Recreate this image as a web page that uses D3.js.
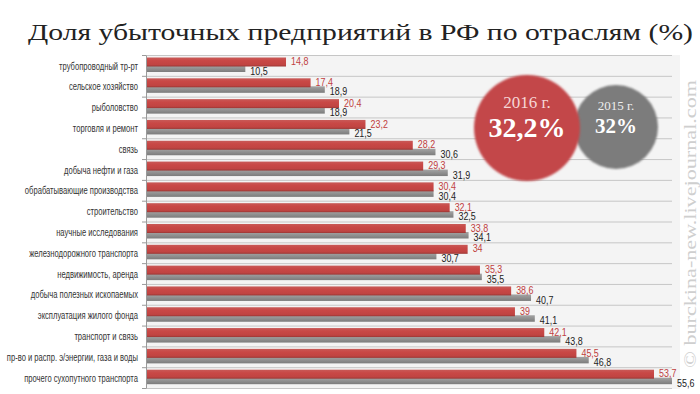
<!DOCTYPE html>
<html><head><meta charset="utf-8">
<script src="https://cdn.jsdelivr.net/npm/d3@7"></script>
<style>
body{margin:0;background:#fff;}
svg{display:block;}
</style></head>
<body>
<svg id="c" width="700" height="394"></svg>
<script>
const categories = [
  "трубопроводный тр-рт","сельское хозяйство","рыболовство","торговля и ремонт","связь",
  "добыча нефти и газа","обрабатывающие производства","строительство","научные исследования",
  "железнодорожного транспорта","недвижимость, аренда","добыча полезных ископаемых",
  "эксплуатация жилого фонда","транспорт и связь","пр-во и распр. э/энергии, газа и воды",
  "прочего сухопутного транспорта"
];
const values2016 = [14.8,17.4,20.4,23.2,28.2,29.3,30.4,32.1,33.8,34,35.3,38.6,39,42.1,45.5,53.7];
const values2015 = [10.5,18.9,18.9,21.5,30.6,31.9,30.4,32.5,34.1,30.7,35.5,40.7,41.1,43.8,46.8,55.6];
const totals = [{year:"2016 г.", value:"32,2%"},{year:"2015 г.", value:"32%"}];
const title = "Доля убыточных предприятий в РФ по отраслям (%)";
const watermark = "© burckina-new.livejournal.com";

const svg = d3.select("#c");
const fmt = v => String(v).replace(".", ",");
const sans = "'Liberation Sans','Arial',sans-serif";
const serif = "'Liberation Serif','DejaVu Serif',serif";

// horizontally condense a text selection
function condense(sel, k){
  sel.each(function(){
    const w = this.getComputedTextLength();
    d3.select(this).attr("textLength", w*k).attr("lengthAdjust","spacingAndGlyphs");
  });
}

const defs = svg.append("defs");
const gr = defs.append("linearGradient").attr("id","gRed").attr("x1",0).attr("x2",0).attr("y1",0).attr("y2",1);
gr.append("stop").attr("offset","0%").attr("stop-color","#c85a58");
gr.append("stop").attr("offset","35%").attr("stop-color","#c94846");
gr.append("stop").attr("offset","80%").attr("stop-color","#c04442");
gr.append("stop").attr("offset","100%").attr("stop-color","#9a3634");
const gg = defs.append("linearGradient").attr("id","gGray").attr("x1",0).attr("x2",0).attr("y1",0).attr("y2",1);
gg.append("stop").attr("offset","0%").attr("stop-color","#a4a4a4");
gg.append("stop").attr("offset","100%").attr("stop-color","#7c7c7c");
const blur = defs.append("filter").attr("id","soft").attr("x","-10%").attr("y","-10%").attr("width","120%").attr("height","120%");
blur.append("feGaussianBlur").attr("stdDeviation",0.8);

const x = d3.scaleLinear().domain([0, 60]).range([146, 146 + 60*9.46]);
const y = d3.scaleBand().domain(categories).range([55, 388]).paddingInner(0).paddingOuter(0);

// plot background
svg.append("rect").attr("x",146).attr("y",55).attr("width",534).attr("height",334).attr("fill","#f4f4f4");

// gridlines at band boundaries
const bounds = categories.map(c => y(c)).concat([y.range()[1]]);
svg.append("g").selectAll("line").data(bounds).join("line")
  .attr("x1",146).attr("x2",672).attr("y1",d=>d+0.5).attr("y2",d=>d+0.5)
  .attr("stroke","#c6c6c6").attr("stroke-width",1);

// axis
const yAxis = d3.axisLeft(y).tickSize(0).tickFormat("");
const ag = svg.append("g").attr("transform","translate(146,0)").call(yAxis);
ag.select(".domain").attr("stroke","#9a9a9a");
svg.append("g").selectAll("line").data(bounds).join("line")
  .attr("x1",142).attr("x2",146).attr("y1",d=>d+0.5).attr("y2",d=>d+0.5)
  .attr("stroke","#9a9a9a");

// category labels
svg.append("g").selectAll("text").data(categories).join("text")
  .attr("x",138).attr("y",d=>y(d)+11).attr("dy","0.35em")
  .attr("text-anchor","end")
  .attr("font-family",sans)
  .attr("font-size",10).attr("fill","#333")
  .text(d=>d)
  .call(condense, 0.76);

// gray bars (2015) behind
svg.append("g").selectAll("rect").data(values2015).join("rect")
  .attr("x",x(0)+1).attr("y",(d,i)=>y(categories[i])+10.5)
  .attr("width",d=>x(d)-x(0)-1).attr("height",6.5)
  .attr("fill","url(#gGray)");

// red bars (2016)
svg.append("g").selectAll("rect").data(values2016).join("rect")
  .attr("x",x(0)+1).attr("y",(d,i)=>y(categories[i])+2.5)
  .attr("width",d=>x(d)-x(0)-1).attr("height",9)
  .attr("fill","url(#gRed)");

// value labels
svg.append("g").selectAll("text").data(values2016).join("text")
  .attr("x",d=>x(d)+5).attr("y",(d,i)=>y(categories[i])+6.5).attr("dy","0.35em")
  .attr("font-family",sans)
  .attr("font-size",10.5).attr("fill","#c0403e")
  .text(fmt)
  .call(condense, 0.85);
svg.append("g").selectAll("text").data(values2015).join("text")
  .attr("x",d=>x(d)+5).attr("y",(d,i)=>y(categories[i])+16).attr("dy","0.35em")
  .attr("font-family",sans)
  .attr("font-size",10.5).attr("fill","#222")
  .text(fmt)
  .call(condense, 0.85);

// circles
const cg = svg.append("g");
cg.append("circle").attr("cx",616).attr("cy",127).attr("r",42).attr("fill","#7b7b7b").attr("filter","url(#soft)");
cg.append("circle").attr("cx",527).attr("cy",128).attr("r",53).attr("fill","#c3464a").attr("filter","url(#soft)");
cg.append("text").attr("x",527).attr("y",108).attr("text-anchor","middle")
  .attr("font-family",serif).attr("font-size",17).attr("fill","#f6d6d6").text(totals[0].year);
cg.append("text").attr("x",527).attr("y",137).attr("text-anchor","middle")
  .attr("font-family",serif).attr("font-size",28).attr("font-weight","bold").attr("fill","#fff").text(totals[0].value);
cg.append("text").attr("x",616).attr("y",110).attr("text-anchor","middle")
  .attr("font-family",serif).attr("font-size",13).attr("fill","#eee").text(totals[1].year);
cg.append("text").attr("x",616).attr("y",133).attr("text-anchor","middle")
  .attr("font-family",serif).attr("font-size",21).attr("font-weight","bold").attr("fill","#fff").text(totals[1].value);

// watermark
svg.append("text").attr("transform","translate(696,224) rotate(-90)")
  .attr("text-anchor","middle").attr("font-family",serif).attr("font-size",17)
  .attr("fill","#cfcfcf").attr("textLength",288).attr("lengthAdjust","spacingAndGlyphs")
  .text(watermark);

// title
svg.append("text").attr("x",28).attr("y",40)
  .attr("font-family",serif).attr("font-size",24).attr("fill","#222")
  .attr("textLength",665).attr("lengthAdjust","spacingAndGlyphs")
  .text(title);
</script>
</body></html>
